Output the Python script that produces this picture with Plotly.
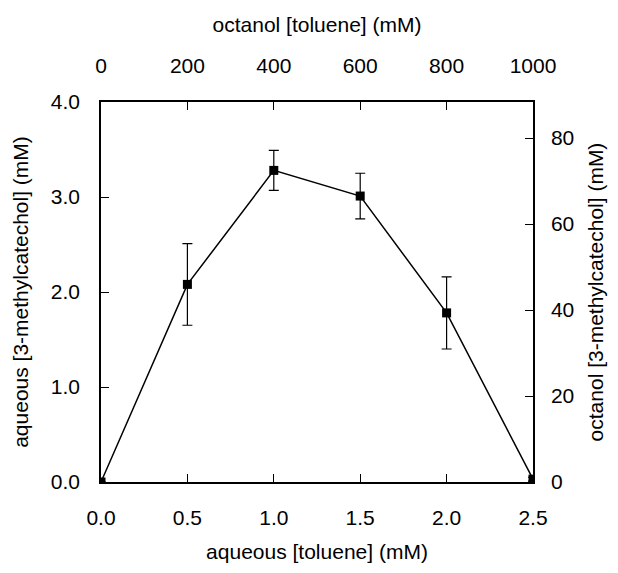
import plotly.graph_objects as go

aq_toluene = [0.0, 0.5, 1.0, 1.5, 2.0, 2.5]
aq_catechol = [0.0, 2.08, 3.28, 3.01, 1.78, 0.03]
err = [0.0, 0.43, 0.21, 0.24, 0.38, 0.02]

x_ticks = [0.0, 0.5, 1.0, 1.5, 2.0, 2.5]
y_ticks = [0.0, 1.0, 2.0, 3.0, 4.0]
top_ticks = [0, 200, 400, 600, 800, 1000]
right_ticks = [0, 20, 40, 60, 80]

font = dict(family="Liberation Sans, Arial, sans-serif", size=21, color="black")

fig = go.Figure()
fig.add_trace(go.Scatter(
    x=aq_toluene, y=aq_catechol,
    mode="lines+markers",
    line=dict(color="black", width=1.5),
    marker=dict(symbol="square", size=9, color="black"),
    error_y=dict(type="data", array=err, visible=True, color="black", thickness=1.2, width=5),
    showlegend=False,
))
# invisible traces to anchor secondary axes
fig.add_trace(go.Scatter(x=[0], y=[0], xaxis="x2", yaxis="y2", mode="markers",
                         marker=dict(opacity=0), showlegend=False, hoverinfo="skip"))

axis_common = dict(showgrid=False, zeroline=False, showline=True, linecolor="black",
                   linewidth=1.5, ticks="inside", ticklen=8, tickwidth=1.2, tickcolor="black",
                   tickfont=font, title_font=font)

fig.update_layout(
    width=618, height=573,
    margin=dict(l=101, r=85, t=102, b=91),
    plot_bgcolor="white", paper_bgcolor="white",
    font=font,
    xaxis=dict(range=[0, 2.5], tickvals=x_ticks, tickformat=".1f", ticklabelstandoff=16,
               title=dict(text="aqueous [toluene] (mM)", standoff=16), **axis_common),
    yaxis=dict(range=[0, 4], tickvals=y_ticks, tickformat=".1f", ticklabelstandoff=15,
               title=dict(text="aqueous [3-methylcatechol] (mM)", standoff=16), **axis_common),
    xaxis2=dict(range=[0, 1000], tickvals=top_ticks, overlaying="x", side="top", anchor="y",
                ticklabelstandoff=19,
                title=dict(text="octanol [toluene] (mM)", standoff=15), **axis_common),
    yaxis2=dict(range=[0, 88.4], tickvals=right_ticks, overlaying="y", side="right", anchor="x",
                ticklabelstandoff=12,
                title=dict(text="octanol [3-methylcatechol] (mM)", standoff=15), **axis_common),
)

fig.write_html("out.html")
